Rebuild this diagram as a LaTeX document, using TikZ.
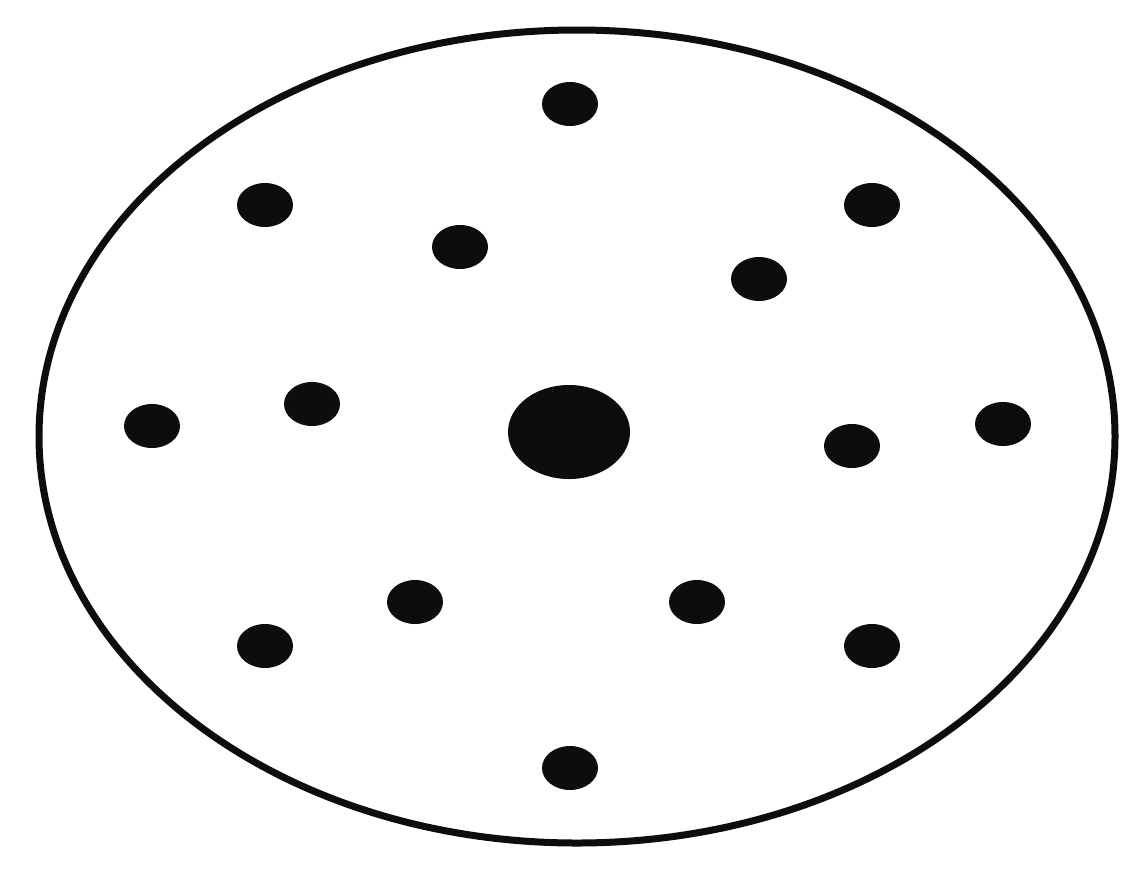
\documentclass[tikz,border=0pt]{standalone}
\usetikzlibrary{shapes.geometric}
\begin{document}
\begin{tikzpicture}[x=1pt,y=-1pt,
  dot/.style={fill=black!95, draw=none, ellipse, minimum width=56pt, minimum height=44pt, inner sep=0pt},
  bigdot/.style={fill=black!95, draw=none, ellipse, minimum width=122pt, minimum height=94pt, inner sep=0pt}]
\useasboundingbox[fill=white] (0,0) rectangle (1147,871);
\node[draw=black!95, line width=7pt, ellipse, minimum width=1076pt, minimum height=813pt, inner sep=0pt] (outer) at (577,436.5) {};
\node[bigdot] (c) at (569,432) {};
\node[dot] (d1) at (570,104) {};
\node[dot] (d2) at (265,205) {};
\node[dot] (d3) at (872,205) {};
\node[dot] (d4) at (460,247) {};
\node[dot] (d5) at (759,279) {};
\node[dot] (d6) at (152,426) {};
\node[dot] (d7) at (312,404) {};
\node[dot] (d8) at (852,446) {};
\node[dot] (d9) at (1003,424) {};
\node[dot] (d10) at (415,602) {};
\node[dot] (d11) at (697,602) {};
\node[dot] (d12) at (265,646) {};
\node[dot] (d13) at (872,646) {};
\node[dot] (d14) at (570,768) {};
\end{tikzpicture}
\end{document}
